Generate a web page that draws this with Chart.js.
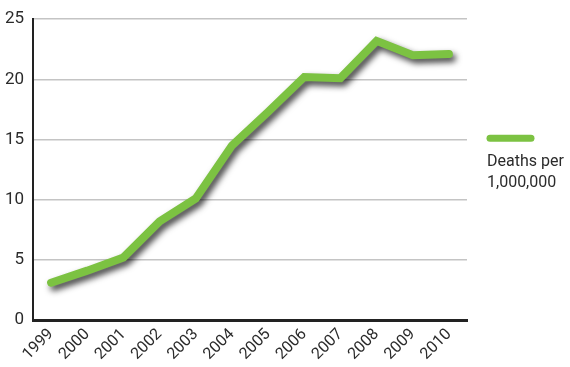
<!DOCTYPE html>
<html>
<head>
<meta charset="utf-8">
<script src="https://cdn.jsdelivr.net/npm/chart.js@4"></script>
<style>
    html, body { margin: 0; padding: 0; background: #ffffff; }
    #wrap { position: relative; width: 570px; height: 367px; }
</style>
</head>
<body>
<div id="wrap"><canvas id="lineChart"></canvas></div>
<script>
'use strict';

// Data
const years = ['1999', '2000', '2001', '2002', '2003', '2004', '2005', '2006', '2007', '2008', '2009', '2010'];
const deathsPerMillion = [3.1, 4.1, 5.2, 8.2, 10.1, 14.5, 17.3, 20.2, 20.1, 23.2, 22.0, 22.1];
const seriesLabel = ['Deaths per', '1,000,000'];
const yTicks = [0, 5, 10, 15, 20, 25];

(function () {
    const greenColor = '#7cc242',
        textColor = '#2b2b2b',
        axisColor = '#222222',
        gridColor = '#c4c4c4',
        fontFamily = 'Roboto, "Liberation Sans", sans-serif';

    // drop shadow under the line
    const lineShadow = {
        id: 'lineShadow',
        beforeDatasetDraw(chart) {
            const ctx = chart.ctx;
            ctx.save();
            ctx.shadowColor = 'rgba(0, 0, 0, 0.75)';
            ctx.shadowOffsetX = 3;
            ctx.shadowOffsetY = 4;
            ctx.shadowBlur = 6;
        },
        afterDatasetDraw(chart) {
            chart.ctx.restore();
        }
    };

    // legend: line swatch above a two-line label
    const sideLegend = {
        id: 'sideLegend',
        afterDraw(chart) {
            const ctx = chart.ctx;
            const area = chart.chartArea;
            const x = area.right + 20;
            const y = area.top + 119;
            ctx.save();
            ctx.strokeStyle = greenColor;
            ctx.lineWidth = 7;
            ctx.lineCap = 'round';
            ctx.beginPath();
            ctx.moveTo(x + 3, y);
            ctx.lineTo(x + 44, y);
            ctx.stroke();
            ctx.fillStyle = textColor;
            ctx.font = '16px ' + fontFamily;
            ctx.textBaseline = 'alphabetic';
            seriesLabel.forEach(function (line, i) {
                ctx.fillText(line, x, y + 28 + i * 21);
            });
            ctx.restore();
        }
    };

    const lineChart = document.getElementById('lineChart');
    new Chart(lineChart, {
        type: 'line',
        data: {
            labels: years,
            datasets: [
                {
                    label: seriesLabel.join(' '),
                    data: deathsPerMillion,
                    borderColor: greenColor,
                    backgroundColor: greenColor,
                    borderWidth: 8,
                    borderCapStyle: 'round',
                    borderJoinStyle: 'miter',
                    pointRadius: 0,
                    tension: 0,
                    fill: false
                }
            ]
        },
        options: {
            responsive: true,
            maintainAspectRatio: false,
            animation: false,
            layout: {
                padding: { top: 16, right: 103, left: 0, bottom: 0 }
            },
            plugins: {
                legend: { display: false },
                tooltip: { enabled: false }
            },
            scales: {
                x: {
                    offset: true,
                    grid: { display: false, drawTicks: false },
                    border: { display: true, color: axisColor, width: 3 },
                    ticks: {
                        color: textColor,
                        font: { family: fontFamily, size: 16 },
                        minRotation: 45,
                        maxRotation: 45,
                        padding: 5
                    },
                    afterFit(scale) { scale.height = 47; }
                },
                y: {
                    min: 0,
                    max: 25,
                    grid: { color: gridColor, lineWidth: 1.5, drawTicks: false },
                    border: { display: true, color: axisColor, width: 2 },
                    afterBuildTicks(scale) {
                        scale.ticks = yTicks.map(function (v) { return { value: v }; });
                    },
                    ticks: {
                        color: textColor,
                        font: { family: fontFamily, size: 17 },
                        padding: 9
                    },
                    afterFit(scale) { scale.width = 33; }
                }
            }
        },
        plugins: [lineShadow, sideLegend]
    });
})();
</script>
</body>
</html>
